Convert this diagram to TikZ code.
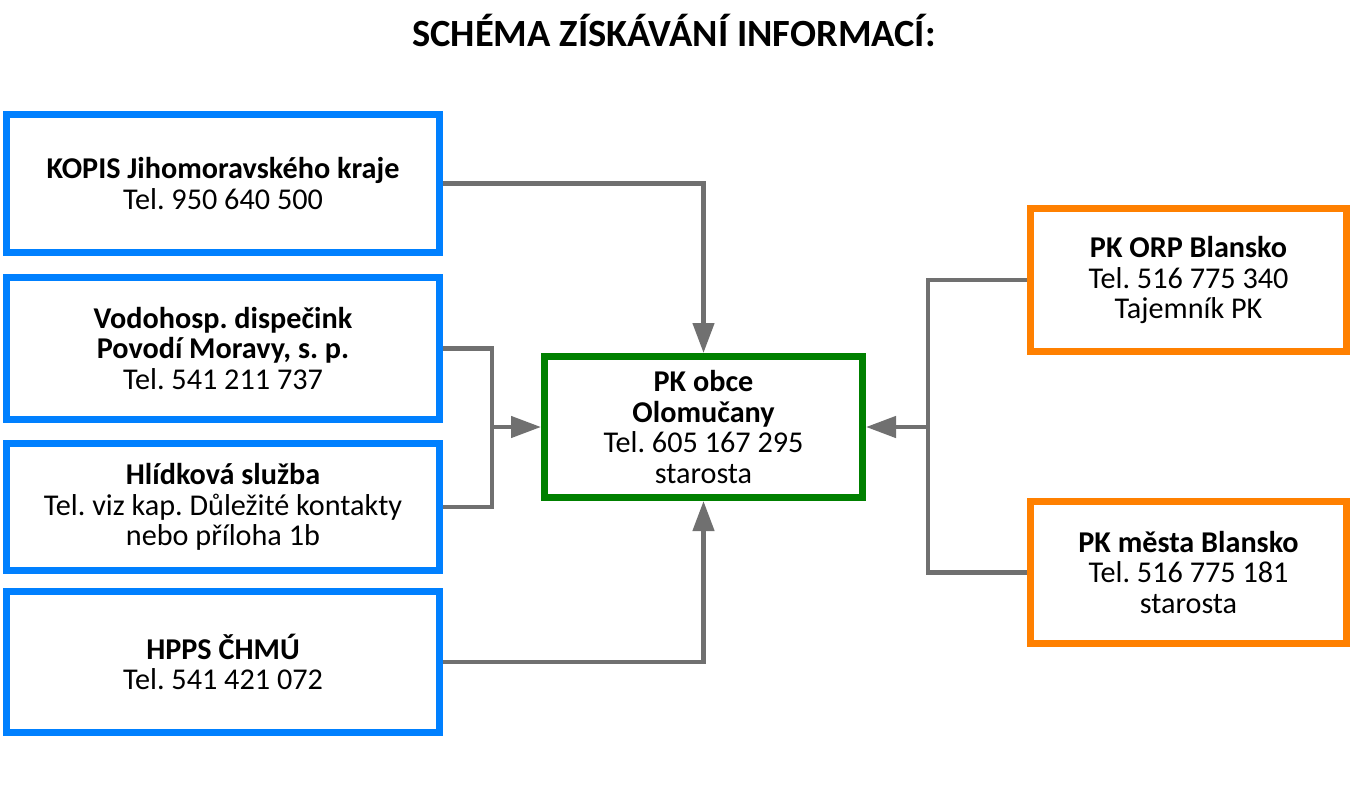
\documentclass[tikz,border=0pt]{standalone}
\usepackage{fontspec}
\setmainfont{Carlito}
\usetikzlibrary{arrows.meta}
\definecolor{cblue}{HTML}{0080FF}
\definecolor{cgreen}{HTML}{008000}
\definecolor{corange}{HTML}{FF8000}
\definecolor{cgray}{HTML}{707070}
\tikzset{
  box/.style={draw, line width=7pt, rectangle, inner sep=0pt, align=center,
    font=\fontsize{30.2}{30.5}\selectfont\frenchspacing},
  bluebox/.style={box, draw=cblue, minimum width=432.5pt},
  greenbox/.style={box, draw=cgreen},
  orangebox/.style={box, draw=corange},
  conn/.style={draw=cgray, line width=4.5pt},
  arr/.style={conn, -{Triangle[length=30pt,width=21pt]}},
  titletext/.style={font=\fontsize{38.5}{40}\selectfont\bfseries, inner sep=0pt}
}
\begin{document}
\frenchspacing
\begin{tikzpicture}[x=1pt,y=1pt]
\useasboundingbox[fill=white] (0,0) rectangle (1360,-787);
\node[titletext, anchor=base] (title) at (674,-46) {SCHÉMA ZÍSKÁVÁNÍ INFORMACÍ:};

\node[bluebox, minimum height=137.5pt] (kopis) at (223,-183.5)
  {\textbf{KOPIS Jihomoravského kraje}\\Tel. 950 640 500};
\node[bluebox, minimum height=141.5pt] (vodo) at (223,-348.5)
  {\textbf{Vodohosp. dispečink}\\\textbf{Povodí Moravy, s. p.}\\Tel. 541 211 737};
\node[bluebox, minimum height=126.5pt] (hlid) at (223,-507)
  {\textbf{Hlídková služba}\\Tel. viz kap. Důležité kontakty\\nebo příloha 1b};
\node[bluebox, minimum height=140.5pt] (hpps) at (223,-662)
  {\textbf{HPPS ČHMÚ}\\Tel. 541 421 072};

\node[greenbox, minimum width=318pt, minimum height=141pt] (pk) at (703.5,-427)
  {\textbf{PK obce}\\\textbf{Olomučany}\\Tel. 605 167 295\\starosta};

\node[orangebox, minimum width=316pt, minimum height=143pt] (orp) at (1188.5,-280)
  {\textbf{PK ORP Blansko}\\Tel. 516 775 340\\Tajemník PK};
\node[orangebox, minimum width=316pt, minimum height=142pt] (mesta) at (1188.5,-572.5)
  {\textbf{PK města Blansko}\\Tel. 516 775 181\\starosta};

\coordinate (jl) at (492,-427);
\coordinate (jr) at (928,-427);

\draw[arr] (kopis.east) -| (pk.north);
\draw[arr] (hpps.east) -| (pk.south);
\draw[conn] (vodo.east) -- (vodo.east -| jl) -- (hlid.east -| jl) -- (hlid.east);
\draw[arr] (jl) -- (pk.west);
\draw[conn] (orp.west) -- (orp.west -| jr) -- (mesta.west -| jr) -- (mesta.west);
\draw[arr] (jr) -- (pk.east);
\end{tikzpicture}
\end{document}
